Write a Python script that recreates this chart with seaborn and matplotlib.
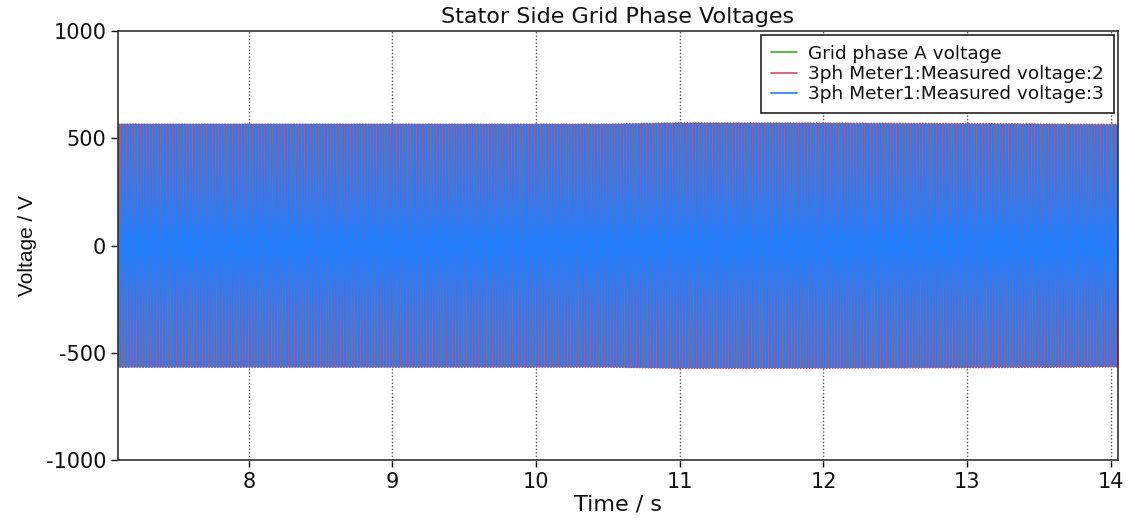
import numpy as np
import pandas as pd
import seaborn as sns
import matplotlib
matplotlib.use("Agg")
import matplotlib.pyplot as plt

# Simulation window and grid parameters
t_start, t_end = 7.09, 14.05
grid_freq_hz = 50.0
sample_rate_hz = 10000

# Peak voltage of each phase at a few instants (V)
env_times = [7.09, 9.0, 10.5, 11.0, 12.0, 13.0, 14.05]
peak_phase_a = [566, 566, 565, 570, 569, 567, 563]
peak_phase_b = [566, 566, 566, 572, 571, 569, 565]
peak_phase_c = [566, 566, 565, 570, 569, 566, 562]

# Phase angles (degrees)
phase_shift_deg = [0, -120, 120]

series_names = [
    "Grid phase A voltage",
    "3ph Meter1:Measured voltage:2",
    "3ph Meter1:Measured voltage:3",
]
series_colors = ["#2fb42f", "#d84a5a", "#1f7fff"]
line_widths = [0.5, 1.2, 1.0]

x_ticks = [8, 9, 10, 11, 12, 13, 14]
y_ticks = [-1000, -500, 0, 500, 1000]

t = np.arange(t_start, t_end, 1.0 / sample_rate_hz)
frames = []
for name, peaks, shift in zip(series_names,
                              [peak_phase_a, peak_phase_b, peak_phase_c],
                              phase_shift_deg):
    amp = np.interp(t, env_times, peaks)
    v = amp * np.sin(2 * np.pi * grid_freq_hz * t + np.deg2rad(shift))
    frames.append(pd.DataFrame({"Time": t, "Voltage": v, "Signal": name}))
df = pd.concat(frames, ignore_index=True)

sns.set_style("white")
plt.rcParams["font.family"] = ["DejaVu Sans"]
plt.rcParams["axes.unicode_minus"] = False

fig = plt.figure(figsize=(11.35, 5.26), dpi=100)
ax = fig.add_axes([0.104, 0.125, 0.881, 0.816])

for name, color, lw in zip(series_names, series_colors, line_widths):
    sns.lineplot(data=df[df["Signal"] == name], x="Time", y="Voltage",
                 color=color, linewidth=lw, estimator=None, ax=ax,
                 legend=False)

ax.set_xlim(t_start, t_end)
ax.set_ylim(-1000, 1000)
ax.set_xticks(x_ticks)
ax.set_yticks(y_ticks)
ax.tick_params(axis="both", labelsize=15, direction="out", length=5,
               width=1, colors="#111111", bottom=True, left=True)
ax.xaxis.grid(True, linestyle=(0, (1, 1.5)), color="#555555", linewidth=1)
ax.yaxis.grid(False)
ax.set_axisbelow(True)
for side in ["left", "bottom", "top", "right"]:
    ax.spines[side].set_color("#333333")
    ax.spines[side].set_linewidth(1.2)

ax.set_xlabel("Time / s", fontsize=16, labelpad=2, color="#111111")
ax.set_ylabel("Voltage / V", fontsize=15, labelpad=6, color="#111111",
              family=["Liberation Sans", "DejaVu Sans"])
ax.set_title("Stator Side Grid Phase Voltages", fontsize=16, pad=6,
             color="#111111")

handles = [plt.Line2D([0], [0], color=c, lw=1.2) for c in series_colors]
leg = ax.legend(handles, series_names, loc="upper right", fontsize=13.3,
                frameon=True, fancybox=False, borderaxespad=0.2,
                handlelength=1.4, handletextpad=0.6, labelspacing=0.12,
                borderpad=0.55)
leg.get_frame().set_edgecolor("#222222")
leg.get_frame().set_linewidth(1.2)
leg.get_frame().set_alpha(1)
for txt in leg.get_texts():
    txt.set_color("#111111")

fig.savefig("out.png", dpi=100)
